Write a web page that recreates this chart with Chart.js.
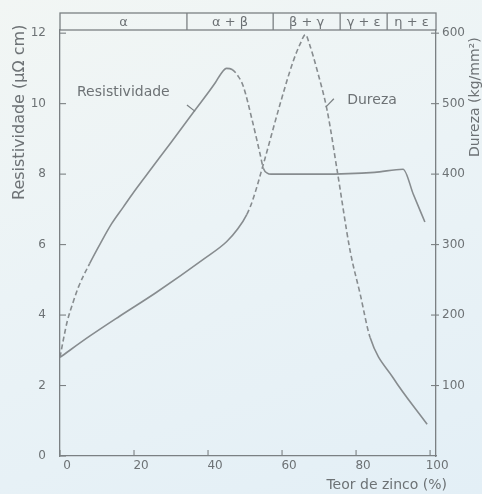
<!DOCTYPE html>
<html>
<head>
<meta charset="utf-8">
<script src="https://cdn.jsdelivr.net/npm/chart.js@4.4.1/dist/chart.umd.min.js"></script>
<style>
  html, body { margin: 0; padding: 0; }
  body { background: linear-gradient(160deg, #f2f6f4 0%, #ebf3f6 45%, #e3eff6 100%); }
  #wrap { width: 482px; height: 494px; position: relative; }
</style>
</head>
<body>
<div id="wrap"><canvas id="c"></canvas></div>
<script>
// axis ticks
const xTicks = [0, 20, 40, 60, 80, 100];
const resTicks = [0, 2, 4, 6, 8, 10, 12];
const durTicks = [100, 200, 300, 400, 500, 600];

// phase fields along the top
const phaseNames = ["α", "α + β", "β + γ", "γ + ε", "η + ε"];
const phaseBounds = [34.3, 57.6, 75.7, 88.4];

// Resistividade (µΩ cm) vs teor de zinco (%)
const resZn = [0, 1, 2, 3.5, 5, 8, 11, 14, 17, 20, 25, 30, 36, 42, 43.5, 45, 46.5, 48, 49.5, 52, 54, 55, 56, 57, 70, 85, 92.7, 95.5, 98.6];
const resVal = [2.8, 3.35, 3.84, 4.35, 4.8, 5.46, 6.05, 6.6, 7.05, 7.5, 8.2, 8.9, 9.75, 10.6, 10.85, 11.0, 10.97, 10.8, 10.5, 9.5, 8.6, 8.15, 8.03, 8.0, 8.0, 8.05, 8.14, 7.42, 6.64];

// Dureza (kg/mm²) vs teor de zinco (%)
const durZn = [0, 8, 16, 26, 39, 45, 48, 50.5, 52, 55, 59.5, 63, 65, 66.3, 67.5, 69.5, 72.2, 74.9, 78.4, 81.1, 83.8, 90, 99.2];
const durVal = [140, 170, 198, 232, 280, 304, 322, 343, 362, 415, 500, 560, 586, 598, 583, 547, 490, 405, 291, 230, 168, 111, 45];

const ink = "#6d7275";
const lineCol = "#878c8f";
const font = "DejaVu Sans";

const toPts = (xs, ys) => xs.map((x, i) => ({ x: x, y: ys[i] }));

const drawExtras = {
  id: "extras",
  afterDraw(chart) {
    const { ctx, chartArea: a, scales } = chart;
    const x = scales.x, yl = scales.y, yr = scales.y2;
    ctx.save();
    ctx.strokeStyle = "#7b8083";
    ctx.lineWidth = 1.3;
    ctx.fillStyle = ink;

    // phase band
    const bTop = a.top - 17;
    ctx.strokeRect(a.left, bTop, a.right - a.left, a.top - bTop);
    phaseBounds.forEach(b => {
      const px = x.getPixelForValue(b);
      ctx.beginPath(); ctx.moveTo(px, bTop); ctx.lineTo(px, a.top); ctx.stroke();
    });
    const edges = [x.min].concat(phaseBounds, [x.max]);
    ctx.font = "13px '" + font + "'";
    ctx.textAlign = "center";
    ctx.textBaseline = "middle";
    phaseNames.forEach((n, i) => {
      const c = (x.getPixelForValue(edges[i]) + x.getPixelForValue(edges[i + 1])) / 2;
      ctx.fillText(n, c, (bTop + a.top) / 2 + 1);
    });

    // inner ticks
    ctx.lineWidth = 1.1;
    resTicks.forEach(v => {
      const py = yl.getPixelForValue(v);
      ctx.beginPath(); ctx.moveTo(a.left, py); ctx.lineTo(a.left + 6, py); ctx.stroke();
    });
    durTicks.forEach(v => {
      const py = yr.getPixelForValue(v);
      ctx.beginPath(); ctx.moveTo(a.right - 5, py); ctx.lineTo(a.right + 3, py); ctx.stroke();
    });
    xTicks.forEach(v => {
      const px = x.getPixelForValue(v);
      ctx.beginPath(); ctx.moveTo(px, a.bottom); ctx.lineTo(px, a.bottom - 6); ctx.stroke();
    });

    // axis titles
    ctx.textBaseline = "middle";
    ctx.textAlign = "left";
    ctx.font = "16px '" + font + "'";
    ctx.save();
    ctx.translate(20, 200);
    ctx.rotate(-Math.PI / 2);
    ctx.fillText("Resistividade (µΩ cm)", 0, 0);
    ctx.restore();

    ctx.font = "14px '" + font + "'";
    ctx.save();
    ctx.translate(475, 157);
    ctx.rotate(-Math.PI / 2);
    ctx.fillText("Dureza (kg/mm²)", 0, 0);
    ctx.restore();

    ctx.textAlign = "right";
    ctx.fillText("Teor de zinco (%)", 447, 485);

    // curve labels with short leader lines
    ctx.textAlign = "left";
    ctx.font = "14px '" + font + "'";
    ctx.fillText("Resistividade", x.getPixelForValue(4.6), yl.getPixelForValue(10.33));
    ctx.fillText("Dureza", x.getPixelForValue(77.6), yr.getPixelForValue(505));
    ctx.lineWidth = 1.2;
    ctx.beginPath();
    ctx.moveTo(x.getPixelForValue(34.3), yl.getPixelForValue(9.96));
    ctx.lineTo(x.getPixelForValue(36.5), yl.getPixelForValue(9.78));
    ctx.stroke();
    ctx.beginPath();
    ctx.moveTo(x.getPixelForValue(71.8), yr.getPixelForValue(495));
    ctx.lineTo(x.getPixelForValue(74.0), yr.getPixelForValue(507));
    ctx.stroke();
    ctx.restore();
  }
};

const dashIf = test => ctx => (test(ctx.p0.parsed.x, ctx.p1.parsed.x) ? [5, 3] : undefined);

new Chart(document.getElementById("c"), {
  type: "line",
  data: {
    datasets: [
      {
        label: "Resistividade",
        data: toPts(resZn, resVal),
        yAxisID: "y",
        borderColor: lineCol,
        borderWidth: 1.6,
        pointRadius: 0,
        cubicInterpolationMode: "monotone",
        segment: { borderDash: dashIf((a, b) => b <= 8 || (a >= 46.5 && b <= 55)) }
      },
      {
        label: "Dureza",
        data: toPts(durZn, durVal),
        yAxisID: "y2",
        borderColor: lineCol,
        borderWidth: 1.6,
        pointRadius: 0,
        cubicInterpolationMode: "monotone",
        segment: { borderDash: dashIf((a, b) => a >= 50.5 && b <= 83.8) }
      }
    ]
  },
  options: {
    responsive: true,
    maintainAspectRatio: false,
    animation: false,
    layout: { padding: { top: 30, left: 0, right: 0, bottom: 0 } },
    plugins: { legend: { display: false }, tooltip: { enabled: false } },
    scales: {
      x: {
        type: "linear",
        min: 0,
        max: 101.6,
        afterBuildTicks: s => { s.ticks = xTicks.map(v => ({ value: v })); },
        afterFit: s => { s.height = 38; },
        grid: { display: false, drawTicks: false },
        border: { color: "#7b8083", width: 1.3 },
        ticks: { color: ink, font: { family: font, size: 12 }, padding: 3, labelOffset: 7, maxRotation: 0 }
      },
      y: {
        position: "left",
        min: 0,
        max: 12.09,
        afterBuildTicks: s => { s.ticks = resTicks.map(v => ({ value: v })); },
        afterFit: s => { s.width = 60; },
        grid: { display: false, drawTicks: false },
        border: { color: "#7b8083", width: 1.3 },
        ticks: { color: ink, font: { family: font, size: 12 }, padding: 14 }
      },
      y2: {
        position: "right",
        min: 0,
        max: 604.5,
        afterBuildTicks: s => { s.ticks = durTicks.map(v => ({ value: v })); },
        afterFit: s => { s.width = 46; },
        grid: { display: false, drawTicks: false },
        border: { color: "#7b8083", width: 1.3 },
        ticks: { color: ink, font: { family: font, size: 12 }, padding: 6 }
      }
    }
  },
  plugins: [drawExtras]
});
</script>
</body>
</html>
